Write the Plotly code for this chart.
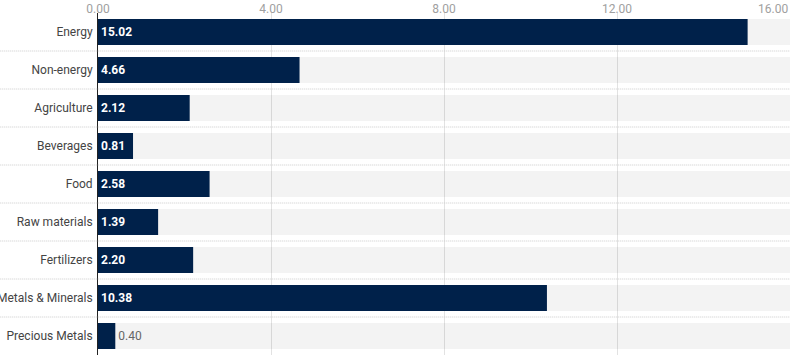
import plotly.graph_objects as go

categories = ["Energy", "Non-energy", "Agriculture", "Beverages", "Food",
              "Raw materials", "Fertilizers", "Metals & Minerals", "Precious Metals"]
values = [15.02, 4.66, 2.12, 0.81, 2.58, 1.39, 2.20, 10.38, 0.40]
tick_vals = [0, 4, 8, 12, 16]
tick_labels = ["0.00", "4.00", "8.00", "12.00", "16.00"]
axis_max = 16

BAR = "#00214a"
FONT = "Roboto, Arial, sans-serif"

inside = [v >= 0.6 for v in values]
texts = [f"<b>{v:.2f}</b>" if ins else f"{v:.2f}" for v, ins in zip(values, inside)]
positions = ["inside" if ins else "outside" for ins in inside]

fig = go.Figure()
# background track
fig.add_trace(go.Bar(
    y=categories, x=[axis_max] * len(categories), orientation="h",
    marker=dict(color="rgba(0,0,0,0.047)", line=dict(width=0)),
    hoverinfo="skip", showlegend=False,
))
fig.add_trace(go.Bar(
    y=categories, x=values, orientation="h",
    marker=dict(color=BAR, line=dict(width=0)),
    text=texts, textposition=positions, insidetextanchor="start",
    insidetextfont=dict(color="white", size=12, family=FONT),
    outsidetextfont=dict(color="#666666", size=12, family=FONT),
    cliponaxis=False, showlegend=False,
))

shapes = []
for i in range(len(categories) - 1):
    shapes.append(dict(type="line", xref="paper", yref="y",
                       x0=-0.142, x1=1.0, y0=i + 0.5, y1=i + 0.5,
                       line=dict(color="#cccccc", width=1, dash="1px,1px"), layer="above"))

fig.update_layout(
    width=796, height=358,
    margin=dict(l=98, r=6, t=13, b=3),
    barmode="overlay", bargap=0.316,
    plot_bgcolor="white", paper_bgcolor="white",
    font=dict(family=FONT, size=12, color="#444444"),
    shapes=shapes,
    annotations=[dict(x=tick_vals[-1], xref="x", y=1, yref="paper", yanchor="bottom",
                      yshift=-5, xanchor="right", text=tick_labels[-1], showarrow=False,
                      font=dict(color="#a0a0a0", size=12, family=FONT))],
    xaxis=dict(side="top", range=[0, axis_max], tickvals=tick_vals,
               ticktext=tick_labels[:-1] + [""],
               showgrid=True, gridcolor="#e2e2e2", gridwidth=1, zeroline=False,
               tickfont=dict(color="#a0a0a0", size=12), ticks="", automargin=False,
               ticklabelstandoff=-3, fixedrange=True),
    yaxis=dict(categoryorder="array", categoryarray=categories, autorange="reversed",
               showline=True, linecolor="#222222", linewidth=1, ticks="",
               tickfont=dict(color="#444444", size=12), automargin=False,
               ticklabelstandoff=2, fixedrange=True),
)

fig.write_html("out.html", config={"displayModeBar": False},
               post_script="document.body.style.margin='0';document.body.style.overflow='hidden';")
